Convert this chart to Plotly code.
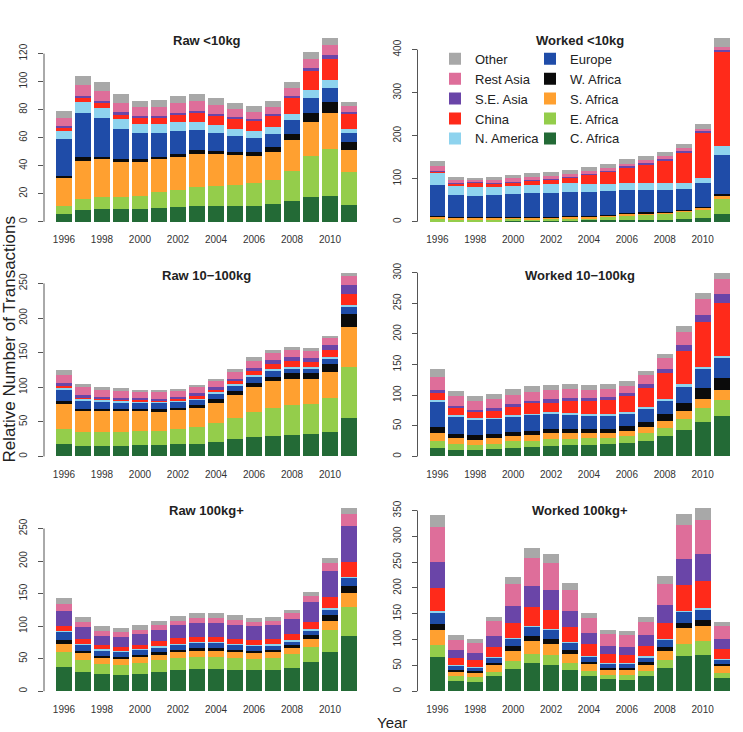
import plotly.graph_objects as go

# ---------------- data ----------------
years = list(range(1996, 2012))
label_years = [1996, 1998, 2000, 2002, 2004, 2006, 2008, 2010]

regions = ["C. Africa", "E. Africa", "S. Africa", "W. Africa", "Europe",
           "N. America", "China", "S.E. Asia", "Rest Asia", "Other"]
region_colors = ["#236A36", "#94CD4B", "#FFA030", "#0B0B0B", "#1F4CA8",
                 "#8ED3EE", "#FF2A1A", "#6A45A8", "#DE6E9A", "#A8A8A8"]

panel_titles = ["Raw <10kg", "Worked <10kg", "Raw 10−100kg",
                "Worked 10−100kg", "Raw 100kg+", "Worked 100kg+"]

ticks_raw_lt10 = [0, 20, 40, 60, 80, 100, 120]
ticks_wkd_lt10 = [0, 100, 200, 300, 400]
ticks_raw_10_100 = [0, 50, 100, 150, 200, 250]
ticks_wkd_10_100 = [0, 50, 100, 150, 200, 250, 300]
ticks_raw_100p = [0, 50, 100, 150, 200, 250]
ticks_wkd_100p = [0, 50, 100, 150, 200, 250, 300, 350]

# Raw <10kg
raw_lt10_c_africa = [5.5, 8.5, 9, 9, 9, 10, 10.5, 11, 11.5, 11.5, 11.5, 12.5, 14.5, 17.5, 18.5, 12]
raw_lt10_e_africa = [5.5, 8, 8.5, 8.5, 9.5, 11, 12, 13.5, 14, 15, 16, 17.5, 22, 29.5, 33.5, 23.5]
raw_lt10_s_africa = [20, 27, 27, 25, 24, 23.5, 24, 24, 23, 21, 19.5, 19.5, 22, 24, 25.5, 15.5]
raw_lt10_w_africa = [2, 3, 2, 2, 2, 1.5, 2, 2.5, 2, 2.5, 3, 4, 4, 6.5, 8, 6]
raw_lt10_europe = [26, 31, 27.5, 22, 19, 17.5, 16.5, 14.5, 13, 11.5, 10, 9, 10, 10.5, 10, 6]
raw_lt10_n_america = [6, 8, 7.5, 7, 6, 6, 6, 6, 5.5, 5, 4.5, 5, 4.5, 6, 5.5, 3]
raw_lt10_china = [2, 2.5, 3.5, 3, 4.5, 4.5, 5, 6, 6.5, 7, 7.5, 8, 11, 13.5, 15.5, 11]
raw_lt10_se_asia = [1, 1.5, 1.5, 1.5, 1.5, 1.5, 1.5, 1.5, 1.5, 1.5, 1.5, 1.5, 1.5, 2, 2.5, 1.5]
raw_lt10_rest_asia = [6, 8, 7, 7, 6.5, 6.5, 7, 7, 6, 5.5, 5, 5, 6, 6.5, 7, 4]
raw_lt10_other = [5, 6.5, 6, 6, 4.5, 5, 5, 5, 5, 4, 4, 4, 4, 5, 5, 3]

# Worked <10kg
wkd_lt10_c_africa = [1.5, 1.5, 1.5, 1.5, 2, 2, 2, 2.5, 3, 3.5, 4, 4.5, 5, 6, 8, 18]
wkd_lt10_e_africa = [4.5, 3.5, 3.5, 3.5, 3.5, 4, 4, 4.5, 5.5, 8, 11, 12.5, 14, 17, 20, 34]
wkd_lt10_s_africa = [7, 5, 4.5, 5, 5, 4.5, 5, 5, 4.5, 4, 3.5, 3.5, 3, 3, 4.5, 8]
wkd_lt10_w_africa = [1, 1, 1, 1, 1, 1, 1, 1, 1, 1, 1, 1, 1, 1, 2.5, 5]
wkd_lt10_europe = [71, 52, 50, 51, 54, 55, 55, 56, 56, 54.5, 53.5, 51.5, 50, 48, 55, 91]
wkd_lt10_n_america = [30, 21, 20, 19, 18, 19.5, 20.5, 20, 18, 16.5, 16, 17, 17, 14, 12.5, 19.5]
wkd_lt10_china = [2.5, 6, 10, 9, 8, 11, 11.5, 14, 22, 29.5, 38, 44, 53, 73, 105, 221]
wkd_lt10_se_asia = [1, 1, 1, 1, 1, 1, 1, 1.5, 2, 2, 2, 3, 3, 3, 4, 3]
wkd_lt10_rest_asia = [10, 6, 6, 6, 8, 6, 6, 6, 5.5, 6, 5, 5.5, 6, 6, 5, 7]
wkd_lt10_other = [12, 7, 3.5, 6, 7, 9, 10, 9.5, 9.5, 10, 11, 10.5, 10, 9, 10.5, 20]

# Raw 10-100kg
raw_10_100_c_africa = [17.5, 15.5, 15.5, 15.5, 16, 16.5, 17.5, 18.5, 21, 24.5, 28.5, 30, 31.5, 32.5, 35.5, 55]
raw_10_100_e_africa = [22.5, 20, 19.5, 20.5, 20.5, 20.5, 22, 24, 27.5, 31, 36, 40.5, 42.5, 43, 49.5, 74.5]
raw_10_100_s_africa = [35.5, 30, 30.5, 29.5, 28.5, 27.5, 28, 27.5, 29, 33, 36, 38.5, 37.5, 36.5, 37.5, 57]
raw_10_100_w_africa = [4.5, 3, 3, 3, 3, 3.5, 2.5, 4.5, 5, 6, 5, 6.5, 8.5, 8.5, 11.5, 20]
raw_10_100_europe = [16.5, 12.5, 11, 9.5, 9, 9, 8.5, 7.5, 8.5, 7.5, 9, 8.5, 7, 6.5, 7.5, 9.5]
raw_10_100_n_america = [2, 2, 2, 2, 1.5, 1, 1.5, 1.5, 2, 2.5, 2.5, 2.5, 2.5, 2.5, 2, 3]
raw_10_100_china = [3.5, 2, 2, 2.5, 3, 3, 3, 4.5, 3.5, 4.5, 6, 7, 8, 7, 10.5, 15.5]
raw_10_100_se_asia = [3.5, 3.5, 3, 2.5, 2.5, 2.5, 3, 3, 4, 3.5, 5, 6.5, 6.5, 6, 6.5, 12.5]
raw_10_100_rest_asia = [12.5, 11.5, 9.5, 9.5, 9, 9, 8.5, 9, 8, 10, 10.5, 10, 10, 10, 10, 13.5]
raw_10_100_other = [6.5, 5, 4.5, 4, 3.5, 4, 3.5, 3.5, 4, 4, 4.5, 4, 4, 4.5, 4, 5]

# Worked 10-100kg
wkd_10_100_c_africa = [13.5, 11, 11, 12.5, 14, 15.5, 17, 18, 18.5, 20, 22, 26, 33.5, 43.5, 56.5, 66]
wkd_10_100_e_africa = [12.5, 9.5, 8, 8.5, 10.5, 10.5, 11, 11, 11, 10, 11, 12.5, 13.5, 17.5, 22, 26]
wkd_10_100_s_africa = [12.5, 9, 8.5, 8.5, 8.5, 9.5, 9.5, 9, 8.5, 8.5, 8.5, 10, 11.5, 13, 15.5, 16]
wkd_10_100_w_africa = [10, 7, 7, 7, 7.5, 6.5, 7, 6.5, 6.5, 7, 7.5, 8, 10.5, 14, 18, 20.5]
wkd_10_100_europe = [41, 28.5, 25.5, 24.5, 24.5, 25.5, 25, 24, 22, 20.5, 20.5, 20.5, 22, 26, 31, 32]
wkd_10_100_n_america = [2.5, 2, 2, 2, 2.5, 2.5, 2.5, 2.5, 3.5, 3.5, 3.5, 3, 3, 3.5, 3, 3.5]
wkd_10_100_china = [12, 11.5, 10.5, 12, 13, 16.5, 16, 19.5, 20.5, 22, 26, 32.5, 42, 55, 74, 87]
wkd_10_100_se_asia = [5, 4, 4, 4, 4.5, 4.5, 5, 4.5, 4.5, 5, 5, 5.5, 7.5, 9, 11.5, 13.5]
wkd_10_100_rest_asia = [20.5, 15.5, 14, 14.5, 15, 15, 15, 14.5, 13, 13.5, 11.5, 14.5, 17, 22, 25.5, 24.5]
wkd_10_100_other = [13.5, 9.5, 9, 8.5, 10, 9, 9, 8, 8.5, 7.5, 7.5, 7.5, 7.5, 9, 10, 11]

# Raw 100kg+
raw_100p_c_africa = [36.5, 29.5, 26, 25.5, 27, 29.5, 32, 34, 34, 33, 32.5, 33, 36, 45, 60.5, 84.5]
raw_100p_e_africa = [23.5, 18.5, 16.5, 15.5, 17, 18.5, 19, 19, 19, 18.5, 17.5, 18, 21, 23.5, 33, 45]
raw_100p_s_africa = [12, 10, 8.5, 8, 8, 8, 8.5, 9, 9, 9, 9, 8.5, 9, 11, 15, 21]
raw_100p_w_africa = [7, 4, 3.5, 4, 4, 3.5, 4, 4, 4, 3.5, 3.5, 3.5, 4.5, 6.5, 8.5, 11]
raw_100p_europe = [12.5, 9, 8, 8, 7, 7.5, 7.5, 8, 8, 7, 6.5, 7, 6, 7, 8.5, 12]
raw_100p_n_america = [1.5, 2, 2, 1.5, 2, 2, 2, 2, 2, 2, 1.5, 2, 2, 2, 2, 2]
raw_100p_china = [7, 7, 6, 6, 6, 7.5, 8, 8, 8, 7.5, 7.5, 8, 10, 12, 16.5, 23.5]
raw_100p_se_asia = [22.5, 18, 15, 15, 17.5, 18, 20, 21, 21, 22, 21.5, 21.5, 23, 29.5, 40, 55]
raw_100p_rest_asia = [12, 8.5, 7.5, 7, 6, 7.5, 7.5, 7.5, 8, 7.5, 7.5, 6.5, 8.5, 9.5, 13.5, 18.5]
raw_100p_other = [8.5, 7.5, 6.5, 6, 6.5, 6.5, 7, 7, 7, 6.5, 6, 6.5, 5.5, 6, 7, 9.5]

# Worked 100kg+
wkd_100p_c_africa = [65.5, 20, 18.5, 28.5, 43, 54.5, 51.5, 40.5, 29, 23, 22.5, 29, 44.5, 67.5, 71, 26.5]
wkd_100p_e_africa = [24.5, 9, 8.5, 9, 16, 18, 19.5, 14, 9.5, 8.5, 8.5, 9.5, 15, 24, 25.5, 9.5]
wkd_100p_s_africa = [28.5, 9, 8.5, 13.5, 19, 24.5, 20.5, 18, 13.5, 9.5, 9.5, 13, 18, 30, 29, 12]
wkd_100p_w_africa = [11.5, 4, 3, 4, 9, 9.5, 9.5, 6.5, 5, 4, 4, 4.5, 7.5, 11.5, 11.5, 4]
wkd_100p_europe = [22, 6.5, 6.5, 9, 13.5, 17.5, 17.5, 14, 9.5, 8.5, 8.5, 9.5, 15, 20, 21.5, 8.5]
wkd_100p_n_america = [2.5, 2, 2, 2.5, 2, 2.5, 2.5, 2.5, 2, 2, 2, 2, 2, 2.5, 2.5, 2]
wkd_100p_china = [45, 13, 13, 19.5, 29.5, 36.5, 36, 29, 22, 16.5, 15, 20.5, 31, 50, 52.5, 18.5]
wkd_100p_se_asia = [50, 16, 14, 21, 32.5, 41, 39.5, 31, 22, 15.5, 16.5, 20, 33.5, 51.5, 52, 19.5]
wkd_100p_rest_asia = [69, 20, 18.5, 28.5, 42.5, 55, 52, 40.5, 29.5, 23, 22, 27, 42, 64.5, 67, 25.5]
wkd_100p_other = [23, 9, 8, 9, 15, 18, 18, 14, 9.5, 8, 7.5, 9.5, 14, 22, 23, 7.5]

# ---------------- assemble ----------------
panel_series = [
    [raw_lt10_c_africa, raw_lt10_e_africa, raw_lt10_s_africa, raw_lt10_w_africa, raw_lt10_europe,
     raw_lt10_n_america, raw_lt10_china, raw_lt10_se_asia, raw_lt10_rest_asia, raw_lt10_other],
    [wkd_lt10_c_africa, wkd_lt10_e_africa, wkd_lt10_s_africa, wkd_lt10_w_africa, wkd_lt10_europe,
     wkd_lt10_n_america, wkd_lt10_china, wkd_lt10_se_asia, wkd_lt10_rest_asia, wkd_lt10_other],
    [raw_10_100_c_africa, raw_10_100_e_africa, raw_10_100_s_africa, raw_10_100_w_africa, raw_10_100_europe,
     raw_10_100_n_america, raw_10_100_china, raw_10_100_se_asia, raw_10_100_rest_asia, raw_10_100_other],
    [wkd_10_100_c_africa, wkd_10_100_e_africa, wkd_10_100_s_africa, wkd_10_100_w_africa, wkd_10_100_europe,
     wkd_10_100_n_america, wkd_10_100_china, wkd_10_100_se_asia, wkd_10_100_rest_asia, wkd_10_100_other],
    [raw_100p_c_africa, raw_100p_e_africa, raw_100p_s_africa, raw_100p_w_africa, raw_100p_europe,
     raw_100p_n_america, raw_100p_china, raw_100p_se_asia, raw_100p_rest_asia, raw_100p_other],
    [wkd_100p_c_africa, wkd_100p_e_africa, wkd_100p_s_africa, wkd_100p_w_africa, wkd_100p_europe,
     wkd_100p_n_america, wkd_100p_china, wkd_100p_se_asia, wkd_100p_rest_asia, wkd_100p_other],
]
panel_ticks = [ticks_raw_lt10, ticks_wkd_lt10, ticks_raw_10_100,
               ticks_wkd_10_100, ticks_raw_100p, ticks_wkd_100p]

W, H = 743, 732
col_dom = [[44 / W, 369 / W], [417.5 / W, 741.5 / W]]
row_px = [(28, 227), (263.4, 462.7), (499.4, 698.4)]
row_dom = [[1 - b / H, 1 - t / H] for t, b in row_px]

FONT = "Liberation Sans, Arial, Helvetica, sans-serif"
fig = go.Figure()
layout = dict(
    width=W, height=H, autosize=False,
    margin=dict(l=0, r=0, t=0, b=0),
    paper_bgcolor="white", plot_bgcolor="white",
    barmode="stack", bargap=1 / 6,
    font=dict(family=FONT, color="#222222"),
    showlegend=True,
    shapes=[], annotations=[],
)

bar_w = 1 - 1 / 6
for p in range(6):
    r, c = divmod(p, 2)
    n = p + 1
    xa = "x" if n == 1 else f"x{n}"
    ya = "y" if n == 1 else f"y{n}"
    series = panel_series[p]
    for k, name in enumerate(regions):
        tr = go.Bar(
            x=years, y=series[k], name=name,
            marker=dict(color=region_colors[k], line=dict(width=0)),
            xaxis=xa, yaxis=ya,
            showlegend=(p == 1),
        )
        if p == 1:
            if k >= 5:
                tr.legend = "legend"
                tr.legendrank = 10 - k
            else:
                tr.legend = "legend2"
                tr.legendrank = 5 - k
        fig.add_trace(tr)
    totals = [sum(v[i] for v in series) for i in range(len(years))]
    m = max(totals)
    lo_x = years[0] - bar_w / 2
    hi_x = years[-1] + bar_w / 2
    ext = 0.04 * (hi_x - lo_x)
    xkey = "xaxis" if n == 1 else f"xaxis{n}"
    ykey = "yaxis" if n == 1 else f"yaxis{n}"
    layout[xkey] = dict(
        domain=col_dom[c], anchor=ya, range=[lo_x - ext, hi_x + ext],
        tickmode="array", tickvals=label_years, ticktext=[str(v) for v in label_years],
        showgrid=False, zeroline=False, showline=False, ticks="",
        ticklabelstandoff=3,
        tickfont=dict(size=10, color="#333333", family=FONT),
    )
    ticks = panel_ticks[p]
    layout[ykey] = dict(
        domain=row_dom[r], anchor=xa, range=[-0.04 * m, 1.04 * m],
        tickmode="array", tickvals=ticks, ticktext=[str(v) for v in ticks],
        showgrid=False, zeroline=False, showline=False,
        ticks="outside", ticklen=5, tickcolor="#555555", tickwidth=1,
        tickangle=-90, ticklabelstandoff=7,
        tickfont=dict(size=10, color="#333333", family=FONT),
    )
    layout["shapes"].append(dict(
        type="line", xref=f"{xa} domain", x0=0, x1=0, yref=ya,
        y0=ticks[0], y1=ticks[-1], line=dict(color="#555555", width=1)))
    layout["annotations"].append(dict(
        text="<b>" + panel_titles[p].replace("<", "&lt;") + "</b>",
        xref=f"{xa} domain", yref=f"{ya} domain", x=0.5, y=0.95,
        xanchor="center", yanchor="middle", showarrow=False,
        font=dict(size=13, color="#222222", family=FONT)))

layout["annotations"].append(dict(
    text="Relative Number of Transactions", textangle=-90,
    xref="paper", yref="paper", x=10 / W, y=1 - 338 / H,
    xanchor="center", yanchor="middle", showarrow=False,
    font=dict(size=17, color="#222222", family=FONT)))
layout["annotations"].append(dict(
    text="Year", xref="paper", yref="paper", x=392 / W, y=1 - 722 / H,
    xanchor="center", yanchor="middle", showarrow=False,
    font=dict(size=15, color="#222222", family=FONT)))

leg_common = dict(orientation="v", traceorder="normal", bgcolor="rgba(0,0,0,0)",
                  font=dict(size=13, color="#222222", family=FONT),
                  xanchor="left", yanchor="top", borderwidth=0)
layout["legend"] = dict(x=435 / W, y=1 - 41 / H, **leg_common)
layout["legend2"] = dict(x=530 / W, y=1 - 41 / H, **leg_common)

fig.update_layout(**layout)
fig.write_html("out.html")
